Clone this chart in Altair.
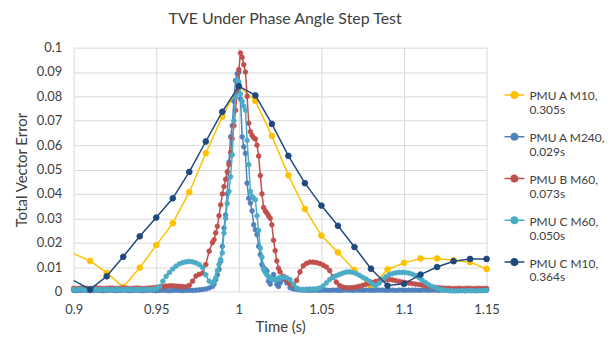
import altair as alt
import pandas as pd

# ---------------- data ----------------
SERIES = ["PMU A M10,|0.305s", "PMU A M240,|0.029s", "PMU B M60,|0.073s",
          "PMU C M60,|0.050s", "PMU C M10,|0.364s"]
COLORS = ["#FFC000", "#4F81BD", "#C0504D", "#4BACC6", "#1F497D"]

# coarse series (first point lies just left of the axis and is clipped)
M10_T = [0.8995, 0.91, 0.92, 0.93, 0.94, 0.95, 0.96, 0.97, 0.98, 0.99, 1.00,
         1.01, 1.02, 1.03, 1.04, 1.05, 1.06, 1.07, 1.08, 1.09, 1.10, 1.11,
         1.12, 1.13, 1.14, 1.15]
A_M10 = [0.0156, 0.0125, 0.0076, 0.0018, 0.0097, 0.0190, 0.0280, 0.0407, 0.0567,
         0.0717, 0.0842, 0.0781, 0.0638, 0.0476, 0.0338, 0.0229, 0.0160, 0.0088,
         0.0015, 0.0090, 0.0117, 0.0135, 0.0135, 0.0128, 0.0120, 0.0092]
C_M10 = [0.0046, 0.0008, 0.0062, 0.0142, 0.0226, 0.0303, 0.0382, 0.0490, 0.0615,
         0.0737, 0.0842, 0.0804, 0.0687, 0.0556, 0.0444, 0.0352, 0.0269, 0.0182,
         0.0093, 0.0024, 0.0031, 0.0069, 0.0100, 0.0124, 0.0133, 0.0133]

# dense series time stamps
DENSE_T = [
    0.900, 0.902, 0.904, 0.906, 0.908, 0.910, 0.912, 0.914, 0.916, 0.918,
    0.920, 0.922, 0.924, 0.926, 0.928, 0.930, 0.932, 0.934, 0.936, 0.938,
    0.940, 0.942, 0.944, 0.946, 0.948, 0.950, 0.952, 0.954, 0.956, 0.958,
    0.960, 0.962, 0.964, 0.966, 0.968, 0.970, 0.972, 0.974, 0.976, 0.978,
    0.980, 0.982, 0.984,
    0.985, 0.986, 0.987, 0.988, 0.989, 0.990, 0.991, 0.992, 0.993, 0.994,
    0.995, 0.996, 0.997, 0.998, 0.999, 1.000, 1.001, 1.002, 1.003, 1.004,
    1.005, 1.006, 1.007, 1.008, 1.009, 1.010, 1.011, 1.012, 1.013, 1.014,
    1.015, 1.016, 1.017, 1.018, 1.019, 1.020, 1.021, 1.022, 1.023, 1.024, 1.025,
    1.027, 1.029, 1.031, 1.033, 1.035, 1.037, 1.039, 1.041, 1.043, 1.045,
    1.047, 1.049, 1.051, 1.053, 1.055, 1.057, 1.059, 1.061, 1.063, 1.065,
    1.067, 1.069, 1.071, 1.073, 1.075, 1.077, 1.079, 1.081, 1.083, 1.085,
    1.087, 1.089, 1.091, 1.093, 1.095, 1.097, 1.099, 1.101, 1.103, 1.105,
    1.107, 1.109, 1.111, 1.113, 1.115, 1.117, 1.119, 1.121, 1.123, 1.125,
    1.127, 1.129, 1.131, 1.133, 1.135, 1.137, 1.139, 1.141, 1.143, 1.145,
    1.147, 1.149, 1.150]

A_M240 = [
    0.0004, 0.0003, 0.0004, 0.0005, 0.0004, 0.0003, 0.0004, 0.0005, 0.0004, 0.0003,
    0.0004, 0.0005, 0.0004, 0.0003, 0.0004, 0.0005, 0.0004, 0.0003, 0.0004, 0.0005,
    0.0004, 0.0003, 0.0004, 0.0005, 0.0004, 0.0003, 0.0004, 0.0005, 0.0004, 0.0003,
    0.0004, 0.0005, 0.0004, 0.0003, 0.0004, 0.0005, 0.0004, 0.0005, 0.0006, 0.0008,
    0.0010, 0.0014, 0.0020,
    0.0030, 0.0048, 0.0068, 0.0090, 0.0124, 0.0185, 0.0260, 0.0314, 0.0400, 0.0530,
    0.0634, 0.0680, 0.0780, 0.0865, 0.0893, 0.0899, 0.0790, 0.0634, 0.0593, 0.0566,
    0.0444, 0.0382, 0.0362, 0.0330, 0.0273, 0.0253, 0.0233, 0.0185, 0.0151, 0.0110,
    0.0097, 0.0090, 0.0083, 0.0042, 0.0030, 0.0050, 0.0069, 0.0050, 0.0029, 0.0020, 0.0035,
    0.0050, 0.0035, 0.0015, 0.0010, 0.0008, 0.0006, 0.0005, 0.0005, 0.0004, 0.0005,
    0.0005, 0.0004, 0.0005, 0.0005, 0.0004, 0.0005, 0.0005, 0.0004, 0.0005, 0.0005,
    0.0005, 0.0004, 0.0005, 0.0005, 0.0004, 0.0005, 0.0005, 0.0004, 0.0005, 0.0005,
    0.0005, 0.0004, 0.0005, 0.0005, 0.0004, 0.0005, 0.0005, 0.0004, 0.0005, 0.0005,
    0.0005, 0.0004, 0.0005, 0.0005, 0.0004, 0.0005, 0.0005, 0.0004, 0.0005, 0.0005,
    0.0005, 0.0004, 0.0005, 0.0005, 0.0004, 0.0005, 0.0005, 0.0004, 0.0005, 0.0005,
    0.0004, 0.0005, 0.0005]

B_M60 = [
    0.0013, 0.0012, 0.0013, 0.0014, 0.0013, 0.0012, 0.0013, 0.0014, 0.0013, 0.0012,
    0.0013, 0.0014, 0.0013, 0.0012, 0.0013, 0.0014, 0.0013, 0.0012, 0.0013, 0.0014,
    0.0013, 0.0012, 0.0013, 0.0014, 0.0015, 0.0016, 0.0018, 0.0020, 0.0022, 0.0023,
    0.0023, 0.0022, 0.0021, 0.0020, 0.0019, 0.0025, 0.0042, 0.0063, 0.0070, 0.0075,
    0.0110, 0.0165, 0.0200,
    0.0212, 0.0240, 0.0267, 0.0310, 0.0355, 0.0400, 0.0430, 0.0460, 0.0490, 0.0520,
    0.0570, 0.0627, 0.0680, 0.0743, 0.0820, 0.0910, 0.0978, 0.0960, 0.0930, 0.0900,
    0.0800, 0.0690, 0.0655, 0.0640, 0.0630, 0.0625, 0.0600, 0.0555, 0.0475, 0.0400,
    0.0344, 0.0330, 0.0321, 0.0310, 0.0300, 0.0273, 0.0210, 0.0167, 0.0125, 0.0095, 0.0080,
    0.0062, 0.0045, 0.0030, 0.0025, 0.0045, 0.0080, 0.0105, 0.0115, 0.0120, 0.0120,
    0.0118, 0.0114, 0.0108, 0.0100, 0.0085, 0.0060, 0.0038, 0.0024, 0.0018, 0.0015,
    0.0015, 0.0016, 0.0018, 0.0021, 0.0025, 0.0029, 0.0033, 0.0037, 0.0041, 0.0044,
    0.0047, 0.0049, 0.0049, 0.0047, 0.0044, 0.0041, 0.0038, 0.0036, 0.0034, 0.0032,
    0.0030, 0.0028, 0.0026, 0.0023, 0.0020, 0.0018, 0.0016, 0.0015, 0.0014, 0.0013,
    0.0013, 0.0012, 0.0012, 0.0013, 0.0012, 0.0012, 0.0013, 0.0012, 0.0012, 0.0013,
    0.0012, 0.0012, 0.0012]

C_M60 = [
    0.0008, 0.0007, 0.0009, 0.0008, 0.0007, 0.0008, 0.0009, 0.0008, 0.0007, 0.0008,
    0.0009, 0.0008, 0.0007, 0.0008, 0.0009, 0.0008, 0.0007, 0.0008, 0.0009, 0.0008,
    0.0007, 0.0008, 0.0009, 0.0008, 0.0009, 0.0011, 0.0020, 0.0042, 0.0062, 0.0078,
    0.0092, 0.0104, 0.0113, 0.0118, 0.0121, 0.0123, 0.0121, 0.0117, 0.0110, 0.0098,
    0.0068, 0.0042, 0.0032,
    0.0040, 0.0055, 0.0085, 0.0110, 0.0130, 0.0158, 0.0240, 0.0300, 0.0360, 0.0410,
    0.0470, 0.0560, 0.0700, 0.0797, 0.0865, 0.0860, 0.0810, 0.0780, 0.0760, 0.0743,
    0.0620, 0.0520, 0.0410, 0.0390, 0.0382, 0.0376, 0.0310, 0.0250, 0.0178, 0.0140,
    0.0090, 0.0078, 0.0068, 0.0060, 0.0054, 0.0050, 0.0048, 0.0047, 0.0050, 0.0054, 0.0057,
    0.0058, 0.0056, 0.0048, 0.0030, 0.0014, 0.0009, 0.0008, 0.0009, 0.0010, 0.0010,
    0.0011, 0.0014, 0.0022, 0.0035, 0.0048, 0.0057, 0.0064, 0.0070, 0.0075, 0.0079,
    0.0080, 0.0078, 0.0073, 0.0066, 0.0058, 0.0051, 0.0042, 0.0030, 0.0024, 0.0034,
    0.0050, 0.0060, 0.0068, 0.0073, 0.0076, 0.0078, 0.0078, 0.0077, 0.0075, 0.0071,
    0.0065, 0.0056, 0.0046, 0.0036, 0.0027, 0.0020, 0.0015, 0.0010, 0.0007, 0.0005,
    0.0003, 0.0002, 0.0002, 0.0002, 0.0003, 0.0002, 0.0003, 0.0003, 0.0002, 0.0003,
    0.0003, 0.0004, 0.0004]

X_TICKS = [0.9, 0.95, 1.0, 1.05, 1.1, 1.15]
Y_TICKS = [0, 0.01, 0.02, 0.03, 0.04, 0.05, 0.06, 0.07, 0.08, 0.09, 0.1]

for arr in (A_M240, B_M60, C_M60):
    assert len(arr) == len(DENSE_T), len(arr)
for arr in (A_M10, C_M10):
    assert len(arr) == len(M10_T)

# ---------------- chart ----------------
FONT = "Lato"
series_data = [
    (SERIES[0], M10_T, A_M10, 34),
    (SERIES[1], DENSE_T, A_M240, 22),
    (SERIES[2], DENSE_T, B_M60, 22),
    (SERIES[3], DENSE_T, C_M60, 22),
    (SERIES[4], M10_T, C_M10, 34),
]

SYMBOL = ("M-1,-0.15H1M-0.32,-0.15a0.32,0.32 0 1,0 0.64,0"
          "a0.32,0.32 0 1,0 -0.64,0Z")
legend = alt.Legend(
    title=None, orient="none", legendX=432, legendY=38,
    labelExpr="split(datum.label, '|')",
    symbolType=SYMBOL, symbolSize=400, symbolStrokeWidth=1.5,
    labelFont=FONT, labelFontSize=12, labelColor="#404040",
    labelLimit=200, labelOffset=4, rowPadding=11, padding=0,
    labelBaseline="middle",
)
cscale = alt.Scale(domain=SERIES, range=COLORS)

x_enc = alt.X("t:Q", scale=alt.Scale(domain=[0.9, 1.15], nice=False, zero=False),
              axis=alt.Axis(values=X_TICKS, labelExpr="format(datum.value, '.2~f')",
                            labelFlush=False,
                            title="Time (s)", titleY=35, titleBaseline="middle"))
y_enc = alt.Y("v:Q", scale=alt.Scale(domain=[0, 0.1], nice=False),
              axis=alt.Axis(values=Y_TICKS, labelExpr="format(datum.value, '.2~f')",
                            labelFlush=False,
                            title="Total Vector Error", titleX=-52, titleBaseline="middle"))

layers = []
for name, t, v, size in series_data:
    df = pd.DataFrame({"t": t, "v": v, "series": name})
    line = alt.Chart(df).mark_line(strokeWidth=1.5, clip=True).encode(
        x=x_enc, y=y_enc,
        stroke=alt.Stroke("series:N", scale=cscale, legend=legend),
    )
    pts = alt.Chart(df[df["t"] >= 0.9]).mark_point(
        filled=True, size=size, opacity=1, strokeWidth=0.8
    ).encode(
        x=x_enc, y=y_enc,
        fill=alt.Fill("series:N", scale=cscale, legend=legend),
        stroke=alt.Stroke("series:N", scale=cscale, legend=legend),
    )
    layers += [line, pts]

chart = alt.layer(*layers).properties(
    width=415, height=245,
    title=alt.TitleParams("TVE Under Phase Angle Step Test", font=FONT, fontSize=16,
                          fontWeight="normal", color="#404040", anchor="middle",
                          dx=5, offset=15),
    padding={"left": 66, "top": 39, "right": 120, "bottom": 45},
    autosize=alt.AutoSizeParams(type="none"),
).configure_view(stroke=None).configure_axis(
    grid=True, gridColor="#D9D9D9", gridWidth=1, domain=False, ticks=False,
    labelFont=FONT, labelFontSize=13, labelColor="#404040", labelPadding=12,
    titleFont=FONT, titleFontSize=15, titleFontWeight="normal", titleColor="#404040",
)

chart.save("out.html", embed_options={"renderer": "svg", "actions": False})
